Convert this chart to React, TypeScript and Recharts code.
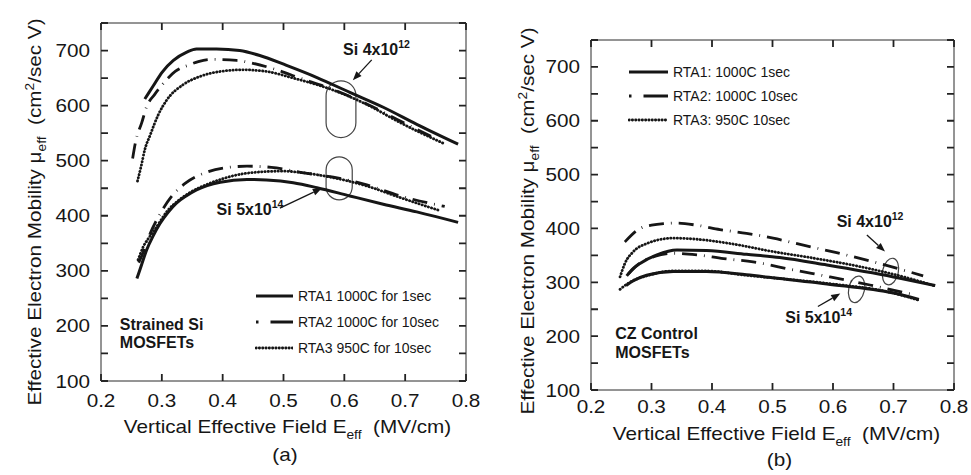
import React from 'react'
import { LineChart, Line, XAxis, YAxis, ReferenceArea, ReferenceLine, ReferenceDot, Legend, CartesianGrid } from 'recharts'

type Pair = [number, number]

// (a) strained Si MOSFETs, x = Eeff (MV/cm), y = mobility
const a_rta1_4e12: Pair[] = [[0.272, 612], [0.286, 636], [0.3, 660], [0.319, 682], [0.341, 697], [0.357, 703], [0.39, 703], [0.428, 700], [0.461, 691], [0.505, 673], [0.555, 651], [0.609, 624], [0.664, 597], [0.719, 566], [0.787, 530]]
const a_rta2_4e12: Pair[] = [[0.252, 504], [0.257, 535], [0.267, 569], [0.275, 598], [0.288, 620], [0.3, 637], [0.322, 662], [0.345, 674], [0.36, 680], [0.382, 684], [0.423, 682], [0.445, 678], [0.483, 667], [0.527, 650], [0.582, 629], [0.637, 603], [0.692, 572], [0.752, 539]]
const a_rta3_4e12: Pair[] = [[0.26, 463], [0.266, 490], [0.272, 520], [0.281, 547], [0.294, 583], [0.308, 610], [0.335, 638], [0.363, 653], [0.396, 662], [0.434, 665], [0.472, 662], [0.516, 650], [0.582, 628], [0.637, 602], [0.692, 569], [0.766, 530]]
const a_rta1_5e14: Pair[] = [[0.259, 286], [0.267, 312], [0.275, 338], [0.286, 364], [0.297, 386], [0.31, 406], [0.324, 423], [0.34, 436], [0.357, 447], [0.396, 461], [0.44, 466], [0.472, 465], [0.516, 460], [0.555, 451], [0.609, 436], [0.664, 421], [0.719, 407], [0.787, 388]]
const a_rta2_5e14: Pair[] = [[0.262, 315], [0.27, 335], [0.281, 368], [0.298, 405], [0.316, 435], [0.34, 460], [0.376, 480], [0.41, 488], [0.44, 490], [0.48, 488], [0.533, 478], [0.582, 470], [0.637, 456], [0.692, 436], [0.765, 417]]
const a_rta3_5e14: Pair[] = [[0.261, 320], [0.27, 345], [0.28, 362], [0.289, 376], [0.31, 410], [0.33, 430], [0.346, 442], [0.379, 459], [0.423, 474], [0.467, 480], [0.5, 481], [0.533, 478], [0.582, 469], [0.637, 454], [0.692, 433], [0.755, 410]]

// (b) CZ control MOSFETs
const b_rta1_4e12: Pair[] = [[0.259, 312], [0.27, 326], [0.281, 335], [0.309, 351], [0.342, 360], [0.391, 359], [0.457, 352], [0.512, 346], [0.59, 332], [0.7, 310], [0.769, 294]]
const b_rta2_4e12: Pair[] = [[0.256, 375], [0.281, 400], [0.3, 406], [0.32, 409], [0.342, 410], [0.375, 406], [0.413, 398], [0.457, 391], [0.501, 382], [0.551, 369], [0.606, 355], [0.667, 338], [0.749, 312]]
const b_rta3_4e12: Pair[] = [[0.248, 310], [0.256, 335], [0.27, 357], [0.292, 372], [0.336, 382], [0.375, 380], [0.43, 372], [0.501, 357], [0.562, 346], [0.645, 329], [0.727, 307], [0.769, 293]]
const b_rta1_5e14: Pair[] = [[0.258, 294], [0.27, 303], [0.292, 313], [0.336, 320], [0.391, 320], [0.457, 314], [0.512, 307], [0.59, 297], [0.7, 280], [0.742, 268]]
const b_rta2_5e14: Pair[] = [[0.262, 316], [0.281, 336], [0.305, 348], [0.336, 354], [0.375, 351], [0.419, 344], [0.468, 338], [0.534, 323], [0.595, 310], [0.661, 295], [0.738, 276]]
const b_rta3_5e14: Pair[] = [[0.248, 287], [0.264, 300], [0.292, 312], [0.336, 321], [0.391, 321], [0.457, 313], [0.512, 307], [0.59, 298], [0.7, 280], [0.741, 267]]

const xTicks = [0.2, 0.3, 0.4, 0.5, 0.6, 0.7, 0.8]
const yTicks = [100, 150, 200, 250, 300, 350, 400, 450, 500, 550, 600, 650, 700, 750]

const legendA = ['RTA1 1000C for 1sec', 'RTA2 1000C for 10sec', 'RTA3 950C for 10sec']
const legendB = ['RTA1: 1000C 1sec', 'RTA2: 1000C 10sec', 'RTA3: 950C 10sec']

// annotation anchors, data units
const a_pills = [[0.57, 0.619, 542, 645], [0.57, 0.613, 429, 507]]
const a_arrows = [[0.645, 683, 0.614, 646], [0.494, 414, 0.563, 450]]
const b_ovals = [[0.682, 0.708, 295, 345], [0.626, 0.652, 262, 312]]
const b_arrows = [[0.656, 388, 0.686, 357], [0.575, 255, 0.612, 279]]

const FONT = '"Liberation Sans", Arial, sans-serif'
const INK = '#161616'
const FRAME = '#2a2a2a'
const TICKC = '#222'
const SX = 1.15
const TK = 7

const kinds = ['rta1', 'rta2', 'rta3'] as const
const lineStyle: Record<string, { dash?: string; w: number; cap?: 'round' | 'butt' }> = {
  rta1: { w: 3 },
  rta2: { dash: '15 7 0.8 7', w: 2.8 },
  rta3: { dash: '0.3 3', w: 2.8, cap: 'round' },
}

const toPts = (p: Pair[]) => p.map(([x, y]) => ({ x, y }))

const bottomTick = (off: number) => (p: any) => (
  <text transform={`translate(${p.x},${p.y + off}) scale(${SX},1)`} textAnchor="middle" fontFamily={FONT} fontSize={18} fill={INK}>
    {p.payload.value.toFixed(1)}
  </text>
)
const leftTick = (p: any) => {
  const v = p.payload.value
  if (v % 100 !== 0 || v > 700) return <g />
  return (
    <text transform={`translate(${p.x - 11},${p.y + 6.5}) scale(${SX},1)`} textAnchor="end" fontFamily={FONT} fontSize={18} fill={INK}>
      {v}
    </text>
  )
}
const noTick = () => <g />

// inward tick marks: grid lines cut down to short stubs at each edge of the plot
const hStub = (p: any) => (
  <g key={p.key}>
    <path d={`M${p.x1},${p.y1}h${TK}M${p.x2},${p.y2}h${-TK}`} stroke={TICKC} strokeWidth={1.8} fill="none" />
  </g>
)
const vStub = (p: any) => (
  <g key={p.key}>
    <path d={`M${p.x1},${p.y1}v${TK}M${p.x2},${p.y2}v${-TK}`} stroke={TICKC} strokeWidth={1.8} fill="none" />
  </g>
)

const xTitle = (base: number, tag: string, tagDx: number, tagBase: number) => (p: any) => {
  const vb = p.viewBox
  const cx = vb.x + vb.width / 2 + 4
  return (
    <g>
      <text transform={`translate(${cx},${vb.y + base}) scale(${SX},1)`} textAnchor="middle" fontFamily={FONT} fontSize={18} fill={INK}>
        Vertical Effective Field E<tspan fontSize={12} dy={6}>eff</tspan>
        <tspan dy={-6}>{'\u00a0\u00a0(MV/cm)'}</tspan>
      </text>
      <text transform={`translate(${vb.x + vb.width / 2 + tagDx},${tagBase}) scale(${SX},1)`} textAnchor="middle" fontFamily={FONT} fontSize={18} fill={INK}>
        {tag}
      </text>
    </g>
  )
}

const yTitle = (bx: number, dy: number) => (p: any) => {
  const vb = p.viewBox
  const cy = vb.y + vb.height / 2 + dy
  return (
    <text transform={`translate(${bx},${cy}) rotate(-90) scale(${SX},1)`} textAnchor="middle" fontFamily={FONT} fontSize={18} fill={INK}>
      Effective Electron Mobility μ<tspan fontSize={12} dy={5}>eff</tspan>
      <tspan dy={-5}>{'\u00a0\u00a0(cm'}</tspan>
      <tspan fontSize={12} dy={-7}>2</tspan>
      <tspan dy={7}>/sec V)</tspan>
    </text>
  )
}

const pill = (p: any) => (
  <rect x={p.x} y={p.y} width={p.width} height={p.height} rx={Math.min(p.width, p.height) / 2} fill="none" stroke="#444" strokeWidth={1.2} />
)
const oval = (p: any) => (
  <ellipse cx={p.x + p.width / 2} cy={p.y + p.height / 2} rx={p.width / 2} ry={p.height / 2}
    transform={`rotate(12 ${p.x + p.width / 2} ${p.y + p.height / 2})`} fill="none" stroke="#444" strokeWidth={1.2} />
)
const arrow = (p: any) => {
  const { x1, y1, x2, y2 } = p
  const a = Math.atan2(y2 - y1, x2 - x1)
  const L = 9, W = 3.5
  const bx = x2 - L * Math.cos(a), by = y2 - L * Math.sin(a)
  const pts = `${x2},${y2} ${bx - W * Math.sin(a)},${by + W * Math.cos(a)} ${bx + W * Math.sin(a)},${by - W * Math.cos(a)}`
  return (
    <g>
      <line x1={x1} y1={y1} x2={bx} y2={by} stroke={INK} strokeWidth={1.3} />
      <polygon points={pts} fill={INK} />
    </g>
  )
}
const supLabel = (base: string, exp: string) => (p: any) => (
  <text x={p.cx} y={p.cy} fontFamily={FONT} fontSize={16} fontWeight={700} fill={INK}>
    {base}<tspan fontSize={10.5} dy={-7}>{exp}</tspan>
  </text>
)
const boldLabel = (s: string) => (p: any) => (
  <text x={p.cx} y={p.cy} fontFamily={FONT} fontSize={16} fontWeight={700} fill={INK}>{s}</text>
)

function LegendBody({ rows, rowH, gap, lineW, size }: { rows: string[]; rowH: number; gap: number; lineW: number; size: number }) {
  return (
    <div style={{ display: 'flex', flexDirection: 'column' }}>
      {rows.map((r, i) => {
        const st = lineStyle[kinds[i]]
        const dash = kinds[i] === 'rta2' ? '2.5 12 40' : st.dash
        return (
          <div key={r} style={{ display: 'flex', alignItems: 'center', height: rowH }}>
            <svg width={lineW} height={8} style={{ display: 'block' }}>
              <line x1={1} y1={4} x2={lineW} y2={4} stroke={INK} strokeWidth={st.w} strokeDasharray={dash} strokeLinecap={st.cap || 'butt'} />
            </svg>
            <span style={{ marginLeft: gap, fontFamily: FONT, fontSize: size, color: INK, whiteSpace: 'nowrap' }}>{r}</span>
          </div>
        )
      })}
    </div>
  )
}

function frameAxes(rightW: number, topH: number, botH: number, xoff: number, tag: string, tagDx: number, tagBase: number, yBx: number, yDy: number, titleBase: number) {
  return [
    <XAxis key="xb" xAxisId="b" orientation="bottom" dataKey="x" type="number" domain={[0.2, 0.8]} ticks={xTicks} interval={0}
      height={botH} tickSize={0} tickMargin={0} tickLine={false} tick={bottomTick(xoff)} stroke={FRAME} allowDataOverflow
      label={xTitle(titleBase, tag, tagDx, tagBase)} />,
    <XAxis key="xt" xAxisId="t" orientation="top" dataKey="x" type="number" domain={[0.2, 0.8]} ticks={xTicks} interval={0}
      height={topH} tickLine={false} tick={noTick} stroke={FRAME} allowDataOverflow />,
    <YAxis key="yl" yAxisId="l" orientation="left" type="number" domain={[100, 750]} ticks={yTicks} interval={0}
      width={101} tickSize={0} tickMargin={0} tickLine={false} tick={leftTick} stroke={FRAME} allowDataOverflow label={yTitle(yBx, yDy)} />,
    <YAxis key="yr" yAxisId="r" orientation="right" type="number" domain={[100, 750]} ticks={yTicks} interval={0}
      width={rightW} tickLine={false} tick={noTick} stroke={FRAME} allowDataOverflow />,
    <CartesianGrid key="g" xAxisId="b" yAxisId="l" horizontal={hStub} vertical={vStub} stroke={TICKC} />,
  ]
}

function series(list: Pair[][]) {
  return list.map((d, i) => {
    const st = lineStyle[kinds[i % 3]]
    return (
      <Line key={i} data={toPts(d)} dataKey="y" xAxisId="b" yAxisId="l" type="monotone" stroke={INK}
        strokeWidth={st.w} strokeDasharray={st.dash} strokeLinecap={st.cap || 'butt'} dot={false} activeDot={false} isAnimationActive={false} />
    )
  })
}

function PanelA() {
  return (
    <LineChart width={480} height={475} margin={{ top: 0, right: 0, bottom: 0, left: 0 }}>
      {frameAxes(14, 23, 94, 26, '(a)', 1.5, 461, 41, 10, 52)}
      {series([a_rta1_4e12, a_rta2_4e12, a_rta3_4e12, a_rta1_5e14, a_rta2_5e14, a_rta3_5e14])}
      {a_pills.map(([x1, x2, y1, y2], i) => (
        <ReferenceArea key={'p' + i} xAxisId="b" yAxisId="l" x1={x1} x2={x2} y1={y1} y2={y2} shape={pill} ifOverflow="visible" />
      ))}
      {a_arrows.map(([x1, y1, x2, y2], i) => (
        <ReferenceLine key={'a' + i} xAxisId="b" yAxisId="l" segment={[{ x: x1, y: y1 }, { x: x2, y: y2 }]} shape={arrow} ifOverflow="visible" />
      ))}
      <ReferenceDot xAxisId="b" yAxisId="l" x={0.598} y={692} r={0} shape={supLabel('Si 4x10', '12')} ifOverflow="visible" />
      <ReferenceDot xAxisId="b" yAxisId="l" x={0.39} y={402} r={0} shape={supLabel('Si 5x10', '14')} ifOverflow="visible" />
      <ReferenceDot xAxisId="b" yAxisId="l" x={0.231} y={193} r={0} shape={boldLabel('Strained Si')} ifOverflow="visible" />
      <ReferenceDot xAxisId="b" yAxisId="l" x={0.231} y={160} r={0} shape={boldLabel('MOSFETs')} ifOverflow="visible" />
      <Legend layout="vertical" align="center" verticalAlign="middle" wrapperStyle={{ left: 255, top: 283, width: 220 }}
        content={() => <LegendBody rows={legendA} rowH={26} gap={5} lineW={38} size={14} />} />
    </LineChart>
  )
}

function PanelB() {
  return (
    <LineChart width={481} height={475} margin={{ top: 0, right: 0, bottom: 0, left: 0 }}>
      {frameAxes(17, 40, 85, 23, '(b)', 7, 466, 44, 6, 50)}
      {series([b_rta1_4e12, b_rta2_4e12, b_rta3_4e12, b_rta1_5e14, b_rta2_5e14, b_rta3_5e14])}
      {b_ovals.map(([x1, x2, y1, y2], i) => (
        <ReferenceArea key={'o' + i} xAxisId="b" yAxisId="l" x1={x1} x2={x2} y1={y1} y2={y2} shape={oval} ifOverflow="visible" />
      ))}
      {b_arrows.map(([x1, y1, x2, y2], i) => (
        <ReferenceLine key={'a' + i} xAxisId="b" yAxisId="l" segment={[{ x: x1, y: y1 }, { x: x2, y: y2 }]} shape={arrow} ifOverflow="visible" />
      ))}
      <ReferenceDot xAxisId="b" yAxisId="l" x={0.606} y={403} r={0} shape={supLabel('Si 4x10', '12')} ifOverflow="visible" />
      <ReferenceDot xAxisId="b" yAxisId="l" x={0.521} y={225} r={0} shape={supLabel('Si 5x10', '14')} ifOverflow="visible" />
      <ReferenceDot xAxisId="b" yAxisId="l" x={0.24} y={194} r={0} shape={boldLabel('CZ Control')} ifOverflow="visible" />
      <ReferenceDot xAxisId="b" yAxisId="l" x={0.24} y={159} r={0} shape={boldLabel('MOSFETs')} ifOverflow="visible" />
      <Legend layout="vertical" align="center" verticalAlign="middle" wrapperStyle={{ left: 138, top: 60, width: 220 }}
        content={() => <LegendBody rows={legendB} rowH={24} gap={5} lineW={40} size={14} />} />
    </LineChart>
  )
}

export default function App() {
  return (
    <div style={{ position: 'absolute', left: 0, top: 0, width: 971, height: 475, background: '#fff', overflow: 'hidden' }}>
      <div style={{ position: 'absolute', left: 0, top: 0 }}>
        <PanelA />
      </div>
      <div style={{ position: 'absolute', left: 490, top: 0 }}>
        <PanelB />
      </div>
    </div>
  )
}
